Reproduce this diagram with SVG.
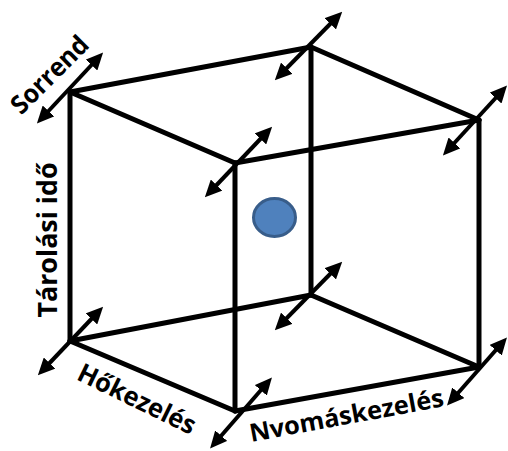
<svg xmlns="http://www.w3.org/2000/svg" width="508" height="451" viewBox="0 0 508 451">
<defs>
<style>
.edge{stroke:#000;stroke-width:5;stroke-linecap:round;fill:none}
.arr{stroke:#000;stroke-width:4;fill:none;marker-start:url(#ah);marker-end:url(#ah)}
.lbl{font-family:"Open Sans","Liberation Sans",sans-serif;font-weight:bold;font-size:26px;fill:#000;text-anchor:middle}
</style>
<marker id="ah" viewBox="0 0 17 16" refX="11" refY="8" markerWidth="17" markerHeight="16" markerUnits="userSpaceOnUse" orient="auto-start-reverse">
<path d="M0,0 L17,8 L0,16 z" fill="#000"/>
</marker>
</defs>
<rect width="508" height="451" fill="#fff"/>
<g id="connectors">
<line class="edge" x1="70" y1="92" x2="311" y2="47"/>
<line class="edge" x1="311" y1="47" x2="479" y2="120"/>
<line class="edge" x1="479" y1="120" x2="235" y2="163"/>
<line class="edge" x1="235" y1="163" x2="70" y2="92"/>
<line class="edge" x1="70" y1="341" x2="311" y2="295"/>
<line class="edge" x1="311" y1="295" x2="479" y2="367"/>
<line class="edge" x1="479" y1="367" x2="235" y2="411"/>
<line class="edge" x1="235" y1="411" x2="70" y2="341"/>
<line class="edge" x1="70" y1="92" x2="70" y2="341"/>
<line class="edge" x1="311" y1="47" x2="311" y2="295"/>
<line class="edge" x1="479" y1="120" x2="479" y2="367"/>
<line class="edge" x1="235" y1="163" x2="235" y2="411"/>
<line class="arr" x1="41" y1="119" x2="99" y2="57"/>
<line class="arr" x1="279" y1="76" x2="338" y2="16"/>
<line class="arr" x1="447" y1="151" x2="503" y2="90"/>
<line class="arr" x1="209" y1="193" x2="268" y2="131"/>
<line class="arr" x1="42" y1="371" x2="99" y2="311"/>
<line class="arr" x1="279" y1="326" x2="338" y2="266"/>
<line class="arr" x1="451" y1="401" x2="503" y2="342"/>
<line class="arr" x1="214" y1="444" x2="268" y2="382"/>
</g>
<g id="point">
<ellipse cx="274.5" cy="217.5" rx="21" ry="19" fill="#4f81bd" stroke="#385d8a" stroke-width="3"/>
</g>
<g id="label-sorrend">
<text class="lbl" transform="translate(56,81) rotate(-45)" textLength="98" lengthAdjust="spacingAndGlyphs">Sorrend</text>
</g>
<g id="label-tarolasi">
<text class="lbl" transform="translate(57,240) rotate(-90)" textLength="155" lengthAdjust="spacingAndGlyphs">Tárolási idő</text>
</g>
<g id="label-hokezeles">
<text class="lbl" transform="translate(133,407) rotate(26)" textLength="128" lengthAdjust="spacingAndGlyphs">Hőkezelés</text>
</g>
<g id="label-nyomas">
<text class="lbl" style="font-size:25px" transform="translate(348,424) rotate(-10.5)" textLength="197" lengthAdjust="spacingAndGlyphs">Nvomáskezelés</text>
</g>
</svg>
